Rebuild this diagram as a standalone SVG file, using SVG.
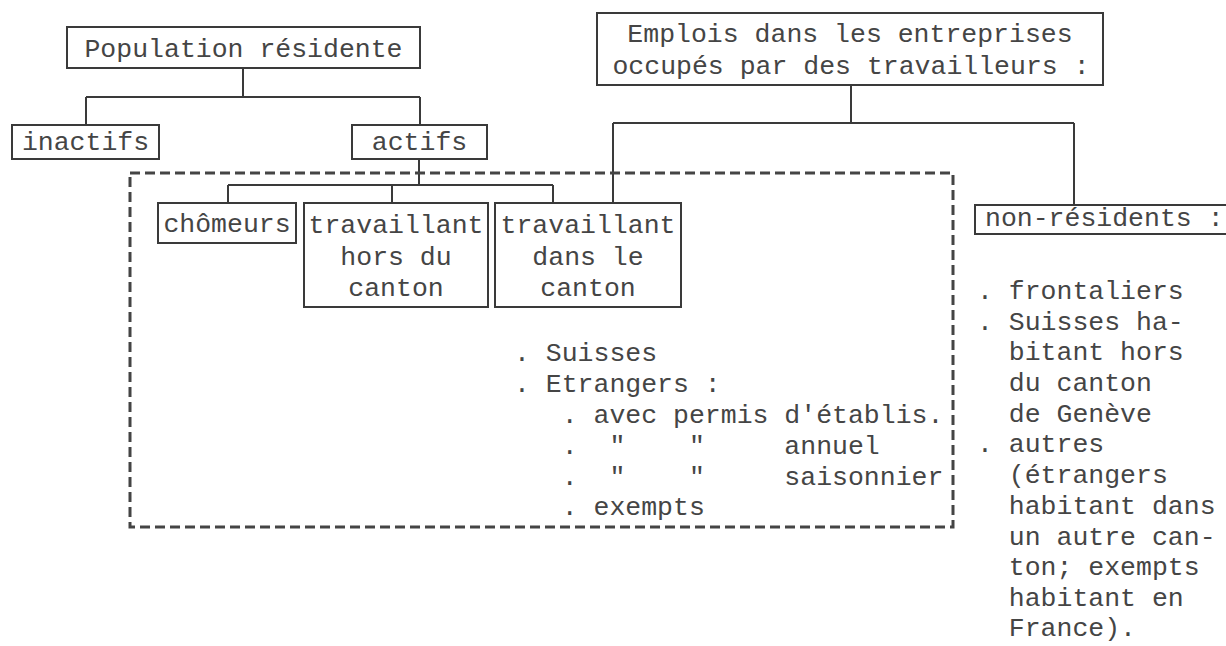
<svg xmlns="http://www.w3.org/2000/svg" width="1226" height="646" viewBox="0 0 1226 646">
<style>
.bx{fill:none;stroke:#3a3a3a;stroke-width:2}
.cn{fill:none;stroke:#3a3a3a;stroke-width:2}
.ds{fill:none;stroke:#444;stroke-width:3;stroke-dasharray:10 5}
text{font-family:"Liberation Mono","Courier New",monospace;font-size:26.5px;fill:#454545}
.m{text-anchor:middle}
</style>
<rect width="1226" height="646" fill="#fff"/>
<g id="connectors">
<path class="cn" d="M243,68V97M86,97H420M86,97V125M420,97V125"/>
<path class="cn" d="M419,159V185M228,185H553M228,185V203M392,185V203M553,185V203"/>
<path class="cn" d="M851,85V123M613,123H1074M613,123V203M1074,123V205"/>
</g>
<g id="zone-residents">
<rect class="ds" x="130" y="173" width="823" height="354"/>
</g>
<g id="population">
<rect class="bx" x="67" y="27" width="353" height="41"/>
<text class="m" x="243.5" y="57">Population résidente</text>
</g>
<g id="emplois">
<rect class="bx" x="597" y="13" width="506" height="72"/>
<text class="m" x="850" y="42">Emplois dans les entreprises</text>
<text class="m" x="851" y="74">occupés par des travailleurs :</text>
</g>
<g id="inactifs">
<rect class="bx" x="12" y="125" width="147" height="34"/>
<text class="m" x="85.5" y="150">inactifs</text>
</g>
<g id="actifs">
<rect class="bx" x="352" y="125" width="135" height="34"/>
<text class="m" x="419.5" y="150">actifs</text>
</g>
<g id="chomeurs">
<rect class="bx" x="158" y="203" width="138" height="40"/>
<text class="m" x="227" y="232">chômeurs</text>
</g>
<g id="hors-canton">
<rect class="bx" x="304" y="203" width="184" height="104"/>
<text class="m" x="396" y="233">travaillant</text>
<text class="m" x="396" y="265">hors du</text>
<text class="m" x="396" y="296">canton</text>
</g>
<g id="dans-canton">
<rect class="bx" x="495" y="203" width="186" height="104"/>
<text class="m" x="588" y="233">travaillant</text>
<text class="m" x="588" y="265">dans le</text>
<text class="m" x="588" y="296">canton</text>
</g>
<g id="liste-residents">
<text xml:space="preserve" x="514" y="361">. Suisses</text>
<text xml:space="preserve" x="514" y="392">. Etrangers :</text>
<text xml:space="preserve" x="514" y="423">   . avec permis d'établis.</text>
<text xml:space="preserve" x="514" y="454">   .  "    "     annuel</text>
<text xml:space="preserve" x="514" y="485">   .  "    "     saisonnier</text>
<text xml:space="preserve" x="514" y="515">   . exempts</text>
</g>
<g id="non-residents">
<rect class="bx" x="975" y="205" width="262" height="29"/>
<text x="985" y="226">non-résidents :</text>
</g>
<g id="liste-non-residents">
<text xml:space="preserve" x="977" y="299">. frontaliers</text>
<text xml:space="preserve" x="977" y="330">. Suisses ha-</text>
<text xml:space="preserve" x="977" y="360">  bitant hors</text>
<text xml:space="preserve" x="977" y="391">  du canton</text>
<text xml:space="preserve" x="977" y="422">  de Genève</text>
<text xml:space="preserve" x="977" y="452">. autres</text>
<text xml:space="preserve" x="977" y="483">  (étrangers</text>
<text xml:space="preserve" x="977" y="514">  habitant dans</text>
<text xml:space="preserve" x="977" y="545">  un autre can-</text>
<text xml:space="preserve" x="977" y="575">  ton; exempts</text>
<text xml:space="preserve" x="977" y="606">  habitant en</text>
<text xml:space="preserve" x="977" y="636">  France).</text>
</g>
</svg>
